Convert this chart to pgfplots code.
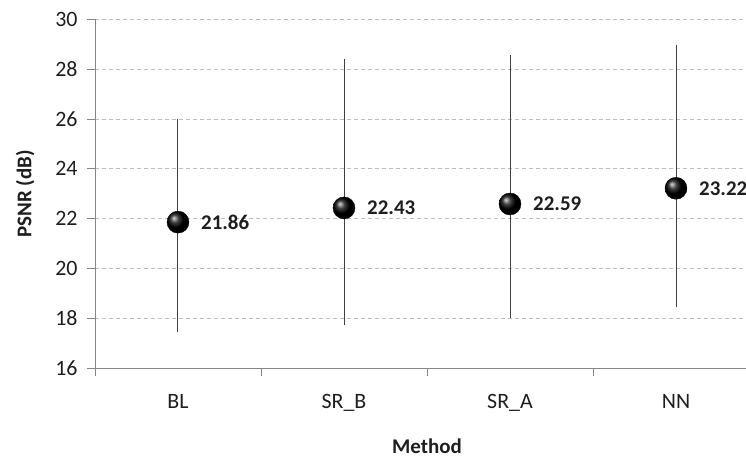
\documentclass[border=0pt]{standalone}
\usepackage{fontspec}
\setmainfont{Carlito}
\usepackage{pgfplots}
\pgfplotsset{compat=1.18}
\definecolor{axgray}{RGB}{134,134,134}
\definecolor{gridgray}{RGB}{190,190,190}
\definecolor{txt}{RGB}{30,30,30}
\begin{document}
\begin{tikzpicture}
\begin{axis}[
  scale only axis,
  width=664bp, height=348.5bp,
  xmin=-0.5, xmax=3.5,
  ymin=16, ymax=30,
  ytick={16,18,...,30},
  xtick={0,1,2,3},
  xticklabels={BL,SR\_B,SR\_A,NN},
  minor xtick={-0.5,0.5,1.5,2.5,3.5},
  axis x line=bottom, axis y line=left,
  axis line style={axgray, line width=0.9bp, -},
  tick align=outside,
  major tick length=8bp, minor tick length=8bp,
  major x tick style={draw=none},
  minor x tick style={axgray, line width=0.9bp},
  major y tick style={axgray, line width=0.9bp},
  ymajorgrids,
  grid style={gridgray, dash pattern=on 4bp off 3bp, line width=0.9bp},
  font=\fontsize{21}{25}\selectfont,
  tick label style={txt, font=\fontsize{22}{26}\selectfont},
  /pgf/number format/assume math mode=true,
  yticklabel style={xshift=-6bp},
  xticklabel style={yshift=-15bp},
  xlabel={\bfseries Method},
  ylabel={\bfseries PSNR (dB)},
  label style={txt, font=\fontsize{21}{25}\selectfont},
  xlabel style={yshift=-20bp},
  ylabel shift=14bp,
  clip=false,
]
\coordinate (O) at (rel axis cs:0,0);
\addplot[draw=none, mark=none, black!80, line width=1bp,
  error bars/.cd, y dir=both, y explicit, error mark=none,
  error bar style={black!75, line width=1bp}]
  coordinates {
  (0,21.86) -= (0,4.43) += (0,4.14)
  (1,22.43) -= (0,4.70) += (0,5.97)
  (2,22.59) -= (0,4.59) += (0,6.00)
  (3,23.22) -= (0,4.78) += (0,5.77)
  };
\addplot[only marks, mark=ball, mark size=11bp, ball color=black,
  nodes near coords,
  point meta=explicit symbolic,
  every node near coord/.append style={anchor=west, inner sep=0pt, xshift=23bp, yshift=0bp, font=\fontsize{21}{25}\selectfont\bfseries, text=txt}]
  coordinates {
  (0,21.86) [21.86]
  (1,22.43) [22.43]
  (2,22.59) [22.59]
  (3,23.22) [23.22]
  };
\end{axis}
\pgfresetboundingbox
\path (O) ++(-95bp,-95bp) rectangle ++(746bp,463bp);
\end{tikzpicture}
\end{document}
